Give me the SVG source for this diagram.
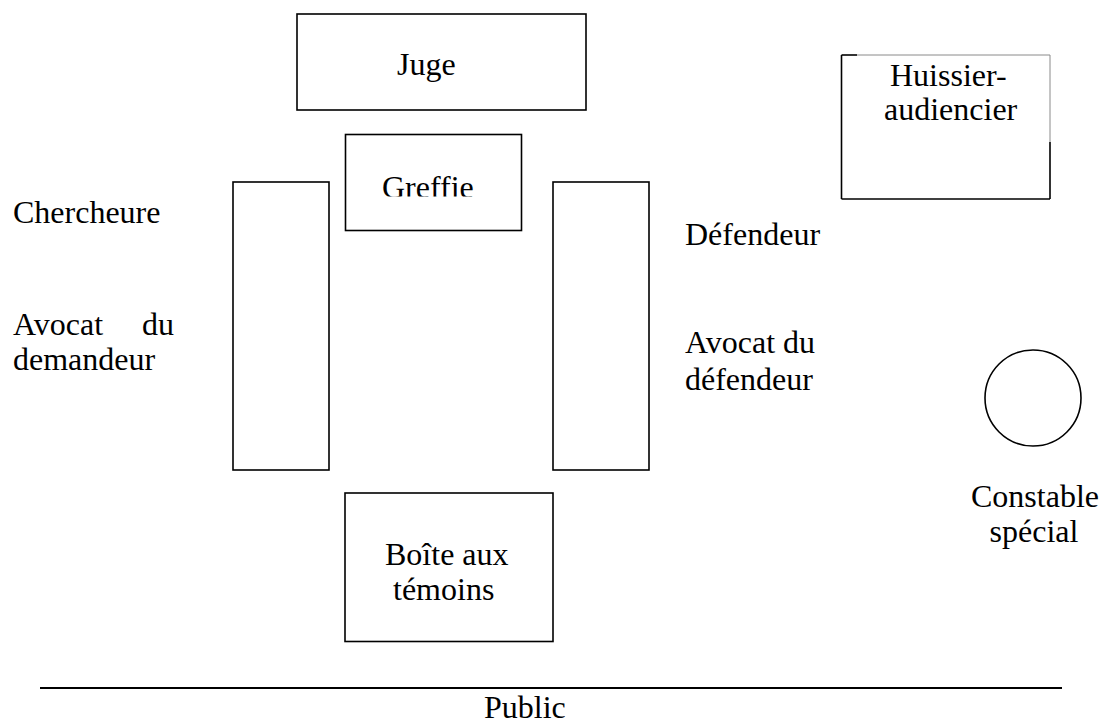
<svg xmlns="http://www.w3.org/2000/svg" width="1104" height="725" viewBox="0 0 1104 725">
<style>
  .box { fill: #fff; stroke: #000; stroke-width: 1.6; }
  text { font-size: 32px; fill: #000; }
  .thin { stroke: #8a8a8a; stroke-width: 1; fill: none; }
  .blk { stroke: #000; stroke-width: 1.6; fill: none; }
</style>
<defs>
  <clipPath id="clipGreffie"><rect x="346" y="135" width="175" height="61.5"/></clipPath>
</defs>
<rect width="1104" height="725" fill="#fff"/>
<g font-family="'Liberation Serif', 'Times New Roman', serif">

<g id="juge">
  <rect class="box" x="297" y="14" width="289" height="96"/>
  <text x="397" y="75">Juge</text>
</g>

<g id="greffie">
  <rect class="box" x="345.5" y="134.5" width="176" height="96"/>
  <text x="382" y="198" clip-path="url(#clipGreffie)">Greffie</text>
</g>

<g id="huissier">
  <line class="thin" x1="857" y1="55" x2="1050" y2="55"/>
  <line class="thin" x1="1050" y1="55" x2="1050" y2="142"/>
  <line class="blk" x1="841.5" y1="55" x2="857" y2="55"/>
  <line class="blk" x1="841.5" y1="55" x2="841.5" y2="199"/>
  <line class="blk" x1="841.5" y1="199" x2="1050" y2="199"/>
  <line class="blk" x1="1050" y1="142" x2="1050" y2="199"/>
  <text x="890" y="86">Huissier-</text>
  <text x="884" y="120">audiencier</text>
</g>

<g id="table-left">
  <rect class="box" x="233" y="182" width="96" height="288"/>
</g>

<g id="table-right">
  <rect class="box" x="553" y="182" width="96" height="288"/>
</g>

<g id="chercheure">
  <text x="13" y="223">Chercheure</text>
</g>

<g id="avocat-demandeur">
  <text x="13" y="335">Avocat</text>
  <text x="142" y="335">du</text>
  <text x="13" y="370">demandeur</text>
</g>

<g id="defendeur">
  <text x="685" y="245">Défendeur</text>
</g>

<g id="avocat-defendeur">
  <text x="685" y="353">Avocat du</text>
  <text x="685" y="390">défendeur</text>
</g>

<g id="constable">
  <circle cx="1033" cy="398" r="48" fill="#fff" stroke="#000" stroke-width="1.6"/>
  <text x="1035" y="507" text-anchor="middle">Constable</text>
  <text x="1034" y="542" text-anchor="middle">spécial</text>
</g>

<g id="boite-temoins">
  <rect class="box" x="345" y="493" width="208" height="148.5"/>
  <text x="385" y="565">Boîte aux</text>
  <text x="393" y="600">témoins</text>
</g>

<g id="connectors">
  <line x1="40" y1="688" x2="1062" y2="688" stroke="#000" stroke-width="2"/>
</g>

<g id="public">
  <text x="484" y="718">Public</text>
</g>
</g>
</svg>
